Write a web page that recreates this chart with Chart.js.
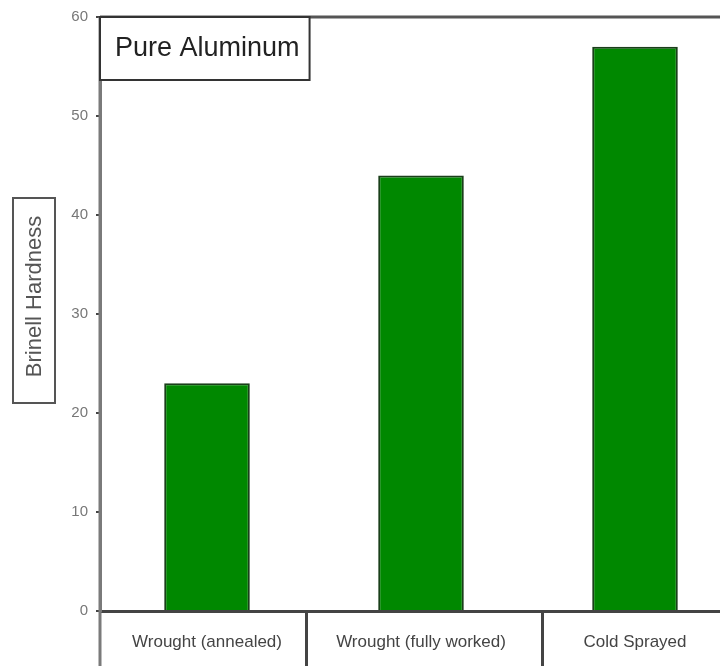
<!DOCTYPE html>
<html>
<head>
<meta charset="utf-8">
<title>Pure Aluminum – Brinell Hardness</title>
<script src="https://cdn.jsdelivr.net/npm/chart.js@4/dist/chart.umd.min.js"></script>
<style>
  html, body { margin: 0; padding: 0; background: #ffffff; overflow: hidden; }
  #wrap { width: 720px; height: 666px; overflow: hidden; position: relative; }
  #box { width: 760px; height: 666px; }
</style>
</head>
<body>
<div id="wrap"><div id="box"><canvas id="chart"></canvas></div></div>
<script>
// Hardness of pure aluminium by processing route
const categories = ["Wrought (annealed)", "Wrought (fully worked)", "Cold Sprayed"];
const hardness = [23, 44, 57];
const yTicks = [0, 10, 20, 30, 40, 50, 60];
const chartTitle = "Pure Aluminum";
const yTitle = "Brinell Hardness";

const FONT = "'Liberation Sans', Arial, sans-serif";

// Boxed title, boxed axis title, frame lines and label dividers
const decorations = {
  id: 'decorations',
  afterDraw(chart) {
    const { ctx, chartArea: a, scales } = chart;
    const H = chart.height;
    ctx.save();

    // top frame line
    ctx.strokeStyle = '#555';
    ctx.lineWidth = 3;
    ctx.beginPath();
    ctx.moveTo(a.left, a.top);
    ctx.lineTo(chart.width, a.top);
    ctx.stroke();

    // left axis line continues through the label row
    ctx.strokeStyle = '#7a7a7a';
    ctx.lineWidth = 3;
    ctx.beginPath();
    ctx.moveTo(a.left, a.top);
    ctx.lineTo(a.left, H);
    ctx.stroke();

    // dividers between category labels, midway between neighbouring labels
    const xs = scales.x;
    ctx.font = "17px " + FONT;
    ctx.strokeStyle = '#444';
    ctx.lineWidth = 3;
    for (let i = 0; i < categories.length - 1; i++) {
      const c0 = xs.getPixelForValue(i), c1 = xs.getPixelForValue(i + 1);
      const r0 = c0 + ctx.measureText(categories[i]).width / 2;
      const l1 = c1 - ctx.measureText(categories[i + 1]).width / 2;
      const dx = Math.round((r0 + l1) / 2) - 2.5;
      ctx.beginPath();
      ctx.moveTo(dx, a.bottom);
      ctx.lineTo(dx, H);
      ctx.stroke();
    }

    // chart title in a box at the top-left corner of the plot
    ctx.font = "27px " + FONT;
    const tw = ctx.measureText(chartTitle).width;
    const bx = a.left, by = a.top, bw = tw + 25, bh = 63;
    ctx.fillStyle = '#ffffff';
    ctx.fillRect(bx, by, bw, bh);
    ctx.strokeStyle = '#333';
    ctx.lineWidth = 2;
    ctx.strokeRect(bx, by, bw, bh);
    ctx.fillStyle = '#222';
    ctx.textBaseline = 'middle';
    ctx.textAlign = 'left';
    ctx.fillText(chartTitle, bx + 15, by + bh / 2);

    // y axis title in a box
    const yx = 13, yy = 198, yw = 42, yh = 205;
    ctx.strokeStyle = '#555';
    ctx.lineWidth = 2;
    ctx.strokeRect(yx, yy, yw, yh);
    ctx.translate(yx + yw / 2, yy + yh / 2);
    ctx.rotate(-Math.PI / 2);
    ctx.font = "22px " + FONT;
    ctx.fillStyle = '#555';
    ctx.textAlign = 'center';
    ctx.textBaseline = 'middle';
    ctx.fillText(yTitle, 4, 1);

    ctx.restore();
  }
};

new Chart(document.getElementById('chart'), {
  type: 'bar',
  data: {
    labels: categories,
    datasets: [{
      data: hardness,
      backgroundColor: '#008800',
      borderColor: '#1a3f1a',
      borderWidth: 2,
      barPercentage: 0.4,
      categoryPercentage: 1.0
    }]
  },
  options: {
    responsive: true,
    maintainAspectRatio: false,
    animation: false,
    layout: { padding: { top: 15, right: 18, left: 0, bottom: 0 } },
    plugins: {
      legend: { display: false },
      tooltip: { enabled: false }
    },
    scales: {
      x: {
        offset: true,
        grid: { display: false },
        border: { display: true, color: '#444', width: 3 },
        ticks: {
          color: '#444',
          font: { family: FONT, size: 17 },
          padding: 13,
          maxRotation: 0,
          autoSkip: false
        },
        afterFit(scale) { scale.height = 55; }
      },
      y: {
        min: 0,
        max: 60,
        afterBuildTicks(scale) { scale.ticks = yTicks.map(v => ({ value: v })); },
        grid: { drawOnChartArea: false, tickLength: 4, color: '#444', lineWidth: 2 },
        border: { display: true, color: '#7a7a7a', width: 3 },
        ticks: {
          color: '#777',
          font: { family: FONT, size: 15 },
          padding: 8
        },
        afterFit(scale) { scale.width = 100; }
      }
    }
  },
  plugins: [decorations]
});
</script>
</body>
</html>
